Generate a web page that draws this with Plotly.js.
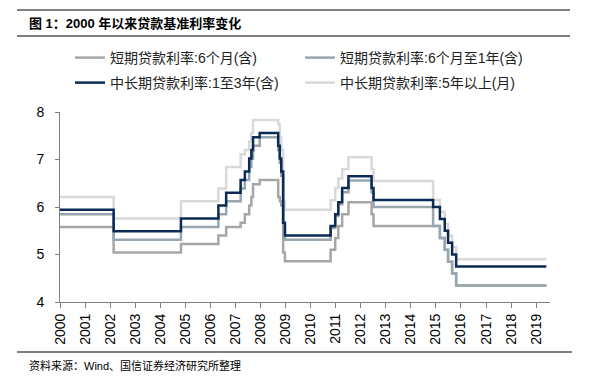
<!DOCTYPE html>
<html>
<head>
<meta charset="utf-8">
<script src="https://cdn.plot.ly/plotly-3.0.1.min.js"></script>
<style>html,body{margin:0;padding:0;background:#fff;}#chart{width:593px;height:376px;}</style>
</head>
<body>
<div id="chart"></div>
<script>
// Dates of benchmark-rate changes (last entry = end of data)
const changeDates = ['2000-01-01','2002-02-21','2004-10-29','2006-04-28','2006-08-19','2007-03-18','2007-05-19','2007-07-21','2007-08-22','2007-09-15','2007-12-21','2008-09-16','2008-10-09','2008-10-30','2008-11-27','2008-12-23','2010-10-20','2010-12-26','2011-02-09','2011-04-06','2011-07-07','2012-06-08','2012-07-06','2014-11-22','2015-03-01','2015-05-11','2015-06-28','2015-08-26','2015-10-24','2019-05-31'];
const rate6m   = [5.58,5.04,5.22,5.40,5.58,5.67,5.85,6.03,6.21,6.48,6.57,6.21,6.12,6.03,5.04,4.86,5.10,5.35,5.60,5.85,6.10,5.85,5.60,5.60,5.35,5.10,4.85,4.60,4.35,4.35];
const rate6m1y = [5.85,5.31,5.58,5.85,6.12,6.39,6.57,6.84,7.02,7.29,7.47,7.20,6.93,6.66,5.58,5.31,5.56,5.81,6.06,6.31,6.56,6.31,6.00,5.60,5.35,5.10,4.85,4.60,4.35,4.35];
const rate1y3y = [5.94,5.49,5.76,6.03,6.30,6.57,6.75,7.02,7.20,7.47,7.56,7.29,7.02,6.75,5.67,5.40,5.60,5.85,6.10,6.40,6.65,6.40,6.15,6.00,5.75,5.50,5.25,5.00,4.75,4.75];
const rate5y   = [6.21,5.76,6.12,6.39,6.84,7.11,7.20,7.38,7.56,7.83,7.83,7.74,7.47,7.20,6.12,5.94,6.14,6.40,6.60,6.80,7.05,6.80,6.55,6.15,5.90,5.65,5.40,5.15,4.90,4.90];
const seriesNames = ['短期贷款利率:6个月(含)','短期贷款利率:6个月至1年(含)','中长期贷款利率:1至3年(含)','中长期贷款利率:5年以上(月)'];
const titleText = '图 1：2000 年以来贷款基准利率变化';
const sourceText = '资料来源：Wind、国信证券经济研究所整理';

const FONT = '"Liberation Sans", Arial, "Noto Sans CJK SC", sans-serif';
const L = 60, R = 43, T = 112, B = 74, W = 593, H = 376;
const pw = W - L - R, ph = H - T - B;
const px = v => (v - L) / pw;
const py = v => (H - B - v) / ph;

function tr(y, name, color, rank, leg) {
  return {x: changeDates, y: y, name: name, type: 'scatter', mode: 'lines',
    line: {color: color, width: 2.5, shape: 'hv'}, legendrank: rank, legend: leg, hoverinfo: 'skip'};
}
const data = [
  tr(rate5y, seriesNames[3], '#d9d9d9', 4, 'legend2'),
  tr(rate6m, seriesNames[0], '#a6a6a6', 1, 'legend'),
  tr(rate6m1y, seriesNames[1], '#98a6b0', 2, 'legend'),
  tr(rate1y3y, seriesNames[2], '#0b2a56', 3, 'legend2')
];

function leg(yc) {
  return {orientation: 'h', x: px(70), y: py(yc - 10), xanchor: 'left', yanchor: 'top',
    entrywidth: 185, entrywidthmode: 'pixels', font: {size: 14, color: '#222', family: FONT},
    bgcolor: 'rgba(0,0,0,0)', traceorder: 'normal', borderwidth: 0};
}

const layout = {
  width: W, height: H,
  margin: {l: L, r: R, t: T, b: B},
  paper_bgcolor: '#fff', plot_bgcolor: '#fff',
  font: {family: FONT, color: '#000'},
  showlegend: true,
  legend: leg(52),
  legend2: leg(77),
  xaxis: {type: 'date', range: ['2000-01-01', '2019-07-23'], tickformat: '%Y', dtick: 'M12',
    tick0: '2000-01-01', tickangle: -90, ticks: 'outside', ticklen: 5, tickcolor: '#808080',
    showline: true, linecolor: '#808080', linewidth: 1, showgrid: false, zeroline: false,
    tickfont: {size: 14, color: '#000', family: FONT}},
  yaxis: {range: [4, 8], dtick: 1, tick0: 4, ticks: 'outside', ticklen: 4, tickcolor: '#808080',
    showline: true, linecolor: '#808080', linewidth: 1, showgrid: false, zeroline: false,
    ticklabelstandoff: 8, tickfont: {size: 14, color: '#000', family: FONT}},
  shapes: [
    {type: 'line', xref: 'paper', yref: 'paper', x0: px(17), x1: px(570), y0: py(10), y1: py(10), line: {color: '#000', width: 1.2}},
    {type: 'line', xref: 'paper', yref: 'paper', x0: px(17), x1: px(570), y0: py(36), y1: py(36), line: {color: '#000', width: 1.2}},
    {type: 'line', xref: 'paper', yref: 'paper', x0: px(17), x1: px(572), y0: py(352), y1: py(352), line: {color: '#000', width: 1.2}}
  ],
  annotations: [
    {xref: 'paper', yref: 'paper', x: px(27), y: py(23), xanchor: 'left', yanchor: 'middle',
      text: '<b>' + titleText + '</b>', showarrow: false, font: {size: 13, color: '#000', family: FONT}},
    {xref: 'paper', yref: 'paper', x: px(27), y: py(365), xanchor: 'left', yanchor: 'middle',
      text: sourceText, showarrow: false, font: {size: 11, color: '#000', family: FONT}}
  ]
};
Plotly.newPlot('chart', data, layout, {staticPlot: true, displayModeBar: false});
</script>
</body>
</html>
